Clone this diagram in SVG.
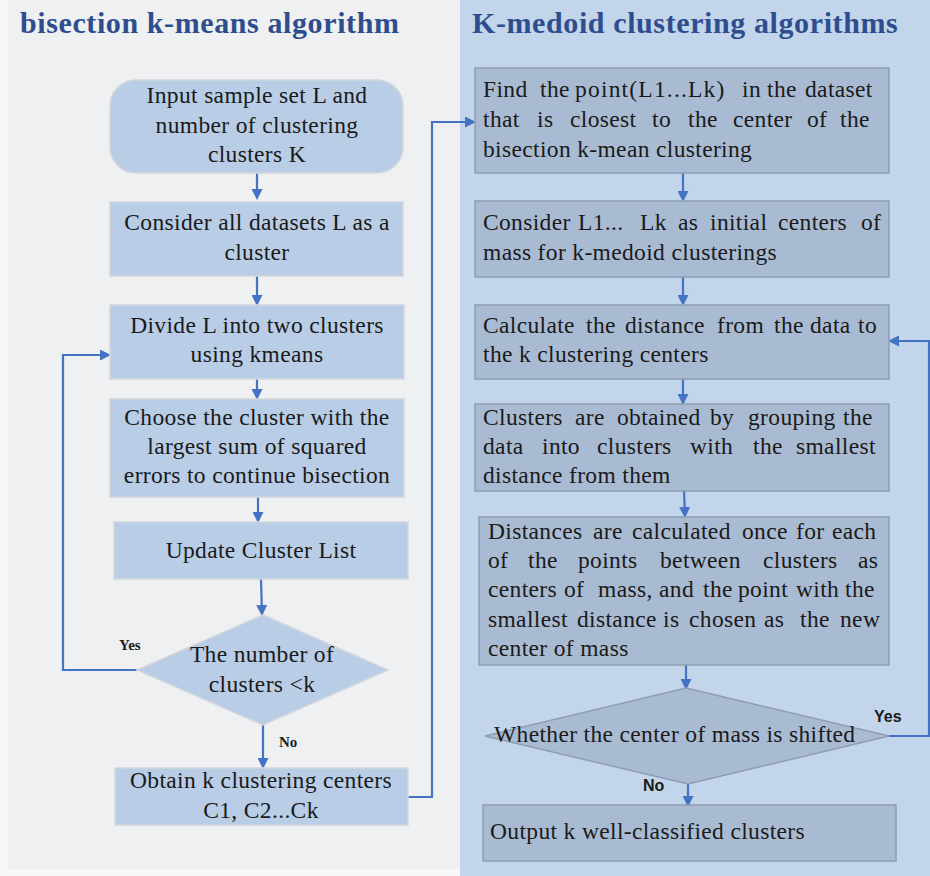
<svg xmlns="http://www.w3.org/2000/svg" width="930" height="876" viewBox="0 0 930 876">
<style>
.t{font-family:"Liberation Serif","Times New Roman",serif;font-size:23.5px;letter-spacing:0.35px;fill:#1a1a1a}
.c{text-anchor:middle}
.title{font-family:"Liberation Serif","Times New Roman",serif;font-size:30px;letter-spacing:0.6px;font-weight:bold;fill:#2e4d8e}
.lb{fill:#b9cde6;stroke:#d2d6dc;stroke-width:1.5}
.rb{fill:#a9bbd2;stroke:#8e9db3;stroke-width:1.5}
.ln{fill:none;stroke:#4472c4;stroke-width:2.2}
.ys{font-family:"Liberation Serif",serif;font-size:15px;font-weight:bold;fill:#1a1a1a}
.ysr{font-family:"Liberation Sans",Arial,sans-serif;font-size:16px;font-weight:bold;fill:#1a1a1a}
</style>
<defs>
<marker id="ah" markerWidth="11" markerHeight="11" refX="9" refY="5.5" orient="auto" markerUnits="userSpaceOnUse" viewBox="0 0 11 11">
<path d="M0,0 L11,5.5 L0,11 z" fill="#4472c4"/>
</marker>
</defs>
<rect width="930" height="876" fill="#f6f7f8"/>
<rect x="8" y="0" width="452" height="869" fill="#eef0f2"/>
<rect x="460" y="0" width="470" height="876" fill="#c3d5eb"/>
<text class="title" x="20" y="33">bisection k-means algorithm</text>
<text class="title" x="472" y="33">K-medoid clustering algorithms</text>

<g id="connectors">
<path class="ln" d="M257,173 V198" marker-end="url(#ah)"/>
<path class="ln" d="M257,276 V304" marker-end="url(#ah)"/>
<path class="ln" d="M257,379 V398" marker-end="url(#ah)"/>
<path class="ln" d="M258,497 V521" marker-end="url(#ah)"/>
<path class="ln" d="M261,579 L262,614" marker-end="url(#ah)"/>
<path class="ln" d="M137,670 H63 V355 H109" marker-end="url(#ah)"/>
<path class="ln" d="M263,725 V767" marker-end="url(#ah)"/>
<path class="ln" d="M408,797 H432 V122 H474" marker-end="url(#ah)"/>
<path class="ln" d="M683,173 V200" marker-end="url(#ah)"/>
<path class="ln" d="M683,277 V304" marker-end="url(#ah)"/>
<path class="ln" d="M683,379 V403" marker-end="url(#ah)"/>
<path class="ln" d="M684,491 L685,516" marker-end="url(#ah)"/>
<path class="ln" d="M686,665 V688" marker-end="url(#ah)"/>
<path class="ln" d="M889,736 H929 V341 H890" marker-end="url(#ah)"/>
<path class="ln" d="M688,784 V805" marker-end="url(#ah)"/>
<text class="ys" x="119" y="650">Yes</text>
<text class="ys" x="279" y="747">No</text>
<text class="ysr" x="874" y="722">Yes</text>
<text class="ysr" x="643" y="791">No</text>
</g>

<g id="input">
<rect class="lb" x="110" y="80" width="293" height="93" rx="26"/>
<text class="t c" x="257" y="103">Input sample set L and</text>
<text class="t c" x="257" y="133">number of clustering</text>
<text class="t c" x="257" y="162">clusters K</text>
</g>
<g id="consider">
<rect class="lb" x="110" y="202" width="293" height="74"/>
<text class="t c" x="257" y="230">Consider all datasets L as a</text>
<text class="t c" x="257" y="260">cluster</text>
</g>
<g id="divide">
<rect class="lb" x="110" y="305" width="294" height="74"/>
<text class="t c" x="257" y="333">Divide L into two clusters</text>
<text class="t c" x="257" y="362">using kmeans</text>
</g>
<g id="choose">
<rect class="lb" x="110" y="399" width="294" height="98"/>
<text class="t c" x="257" y="425">Choose the cluster with the</text>
<text class="t c" x="257" y="454">largest sum of squared</text>
<text class="t c" x="257" y="483">errors to continue bisection</text>
</g>
<g id="update">
<rect class="lb" x="114" y="522" width="294" height="57"/>
<text class="t c" x="261" y="558">Update Cluster List</text>
</g>
<g id="decision1">
<polygon class="lb" points="263,615 388,670 263,725 137,670"/>
<text class="t c" x="262" y="662">The number of</text>
<text class="t c" x="262" y="692">clusters &lt;k</text>
</g>
<g id="obtain">
<rect class="lb" x="115" y="768" width="293" height="57"/>
<text class="t c" x="261" y="788">Obtain k clustering centers</text>
<text class="t c" x="261" y="818">C1, C2...Ck</text>
</g>

<g id="find">
<rect class="rb" x="475" y="68" width="414" height="105"/>
<text class="t" y="97"><tspan x="483">Find</tspan><tspan x="540">the</tspan><tspan x="575" letter-spacing="1.2">point(L1...Lk)</tspan><tspan x="742">in</tspan><tspan x="767">the</tspan><tspan x="805">dataset</tspan></text>
<text class="t" y="127"><tspan x="483">that</tspan><tspan x="537">is</tspan><tspan x="570">closest</tspan><tspan x="652">to</tspan><tspan x="688">the</tspan><tspan x="733">center</tspan><tspan x="807">of</tspan><tspan x="840">the</tspan></text>
<text class="t" x="483" y="157">bisection k-mean clustering</text>
</g>
<g id="initial">
<rect class="rb" x="475" y="201" width="414" height="76"/>
<text class="t" y="230"><tspan x="483">Consider</tspan><tspan x="578">L1...</tspan><tspan x="640">Lk</tspan><tspan x="678">as</tspan><tspan x="710">initial</tspan><tspan x="778">centers</tspan><tspan x="861">of</tspan></text>
<text class="t" x="483" y="260">mass for k-medoid clusterings</text>
</g>
<g id="calculate">
<rect class="rb" x="475" y="305" width="414" height="74"/>
<text class="t" y="333"><tspan x="483">Calculate</tspan><tspan x="586">the</tspan><tspan x="625">distance</tspan><tspan x="717">from</tspan><tspan x="774">the</tspan><tspan x="810">data</tspan><tspan x="858">to</tspan></text>
<text class="t" x="483" y="362">the k clustering centers</text>
</g>
<g id="group">
<rect class="rb" x="475" y="404" width="414" height="87"/>
<text class="t" y="425"><tspan x="483">Clusters</tspan><tspan x="575">are</tspan><tspan x="617">obtained</tspan><tspan x="710">by</tspan><tspan x="748">grouping</tspan><tspan x="843">the</tspan></text>
<text class="t" y="454"><tspan x="483">data</tspan><tspan x="542">into</tspan><tspan x="597">clusters</tspan><tspan x="690">with</tspan><tspan x="753">the</tspan><tspan x="796">smallest</tspan></text>
<text class="t" x="483" y="483">distance from them</text>
</g>
<g id="distances">
<rect class="rb" x="479" y="517" width="410" height="148"/>
<text class="t" y="539"><tspan x="488">Distances</tspan><tspan x="593">are</tspan><tspan x="632">calculated</tspan><tspan x="742">once</tspan><tspan x="796">for</tspan><tspan x="832">each</tspan></text>
<text class="t" y="568"><tspan x="488">of</tspan><tspan x="528">the</tspan><tspan x="578">points</tspan><tspan x="660">between</tspan><tspan x="763">clusters</tspan><tspan x="858">as</tspan></text>
<text class="t" y="597"><tspan x="488">centers</tspan><tspan x="564">of</tspan><tspan x="598">mass,</tspan><tspan x="659">and</tspan><tspan x="703">the</tspan><tspan x="738">point</tspan><tspan x="796">with</tspan><tspan x="845">the</tspan></text>
<text class="t" y="627"><tspan x="488">smallest</tspan><tspan x="577">distance</tspan><tspan x="663">is</tspan><tspan x="689">chosen</tspan><tspan x="764">as</tspan><tspan x="800">the</tspan><tspan x="840">new</tspan></text>
<text class="t" x="488" y="656">center of mass</text>
</g>
<g id="decision2">
<polygon class="rb" points="686,688 889,736 688,784 485,736"/>
<text class="t" x="494" y="742">Whether the center of mass is shifted</text>
</g>
<g id="output">
<rect class="rb" x="483" y="805" width="413" height="56"/>
<text class="t" x="490" y="839">Output k well-classified clusters</text>
</g>
</svg>
